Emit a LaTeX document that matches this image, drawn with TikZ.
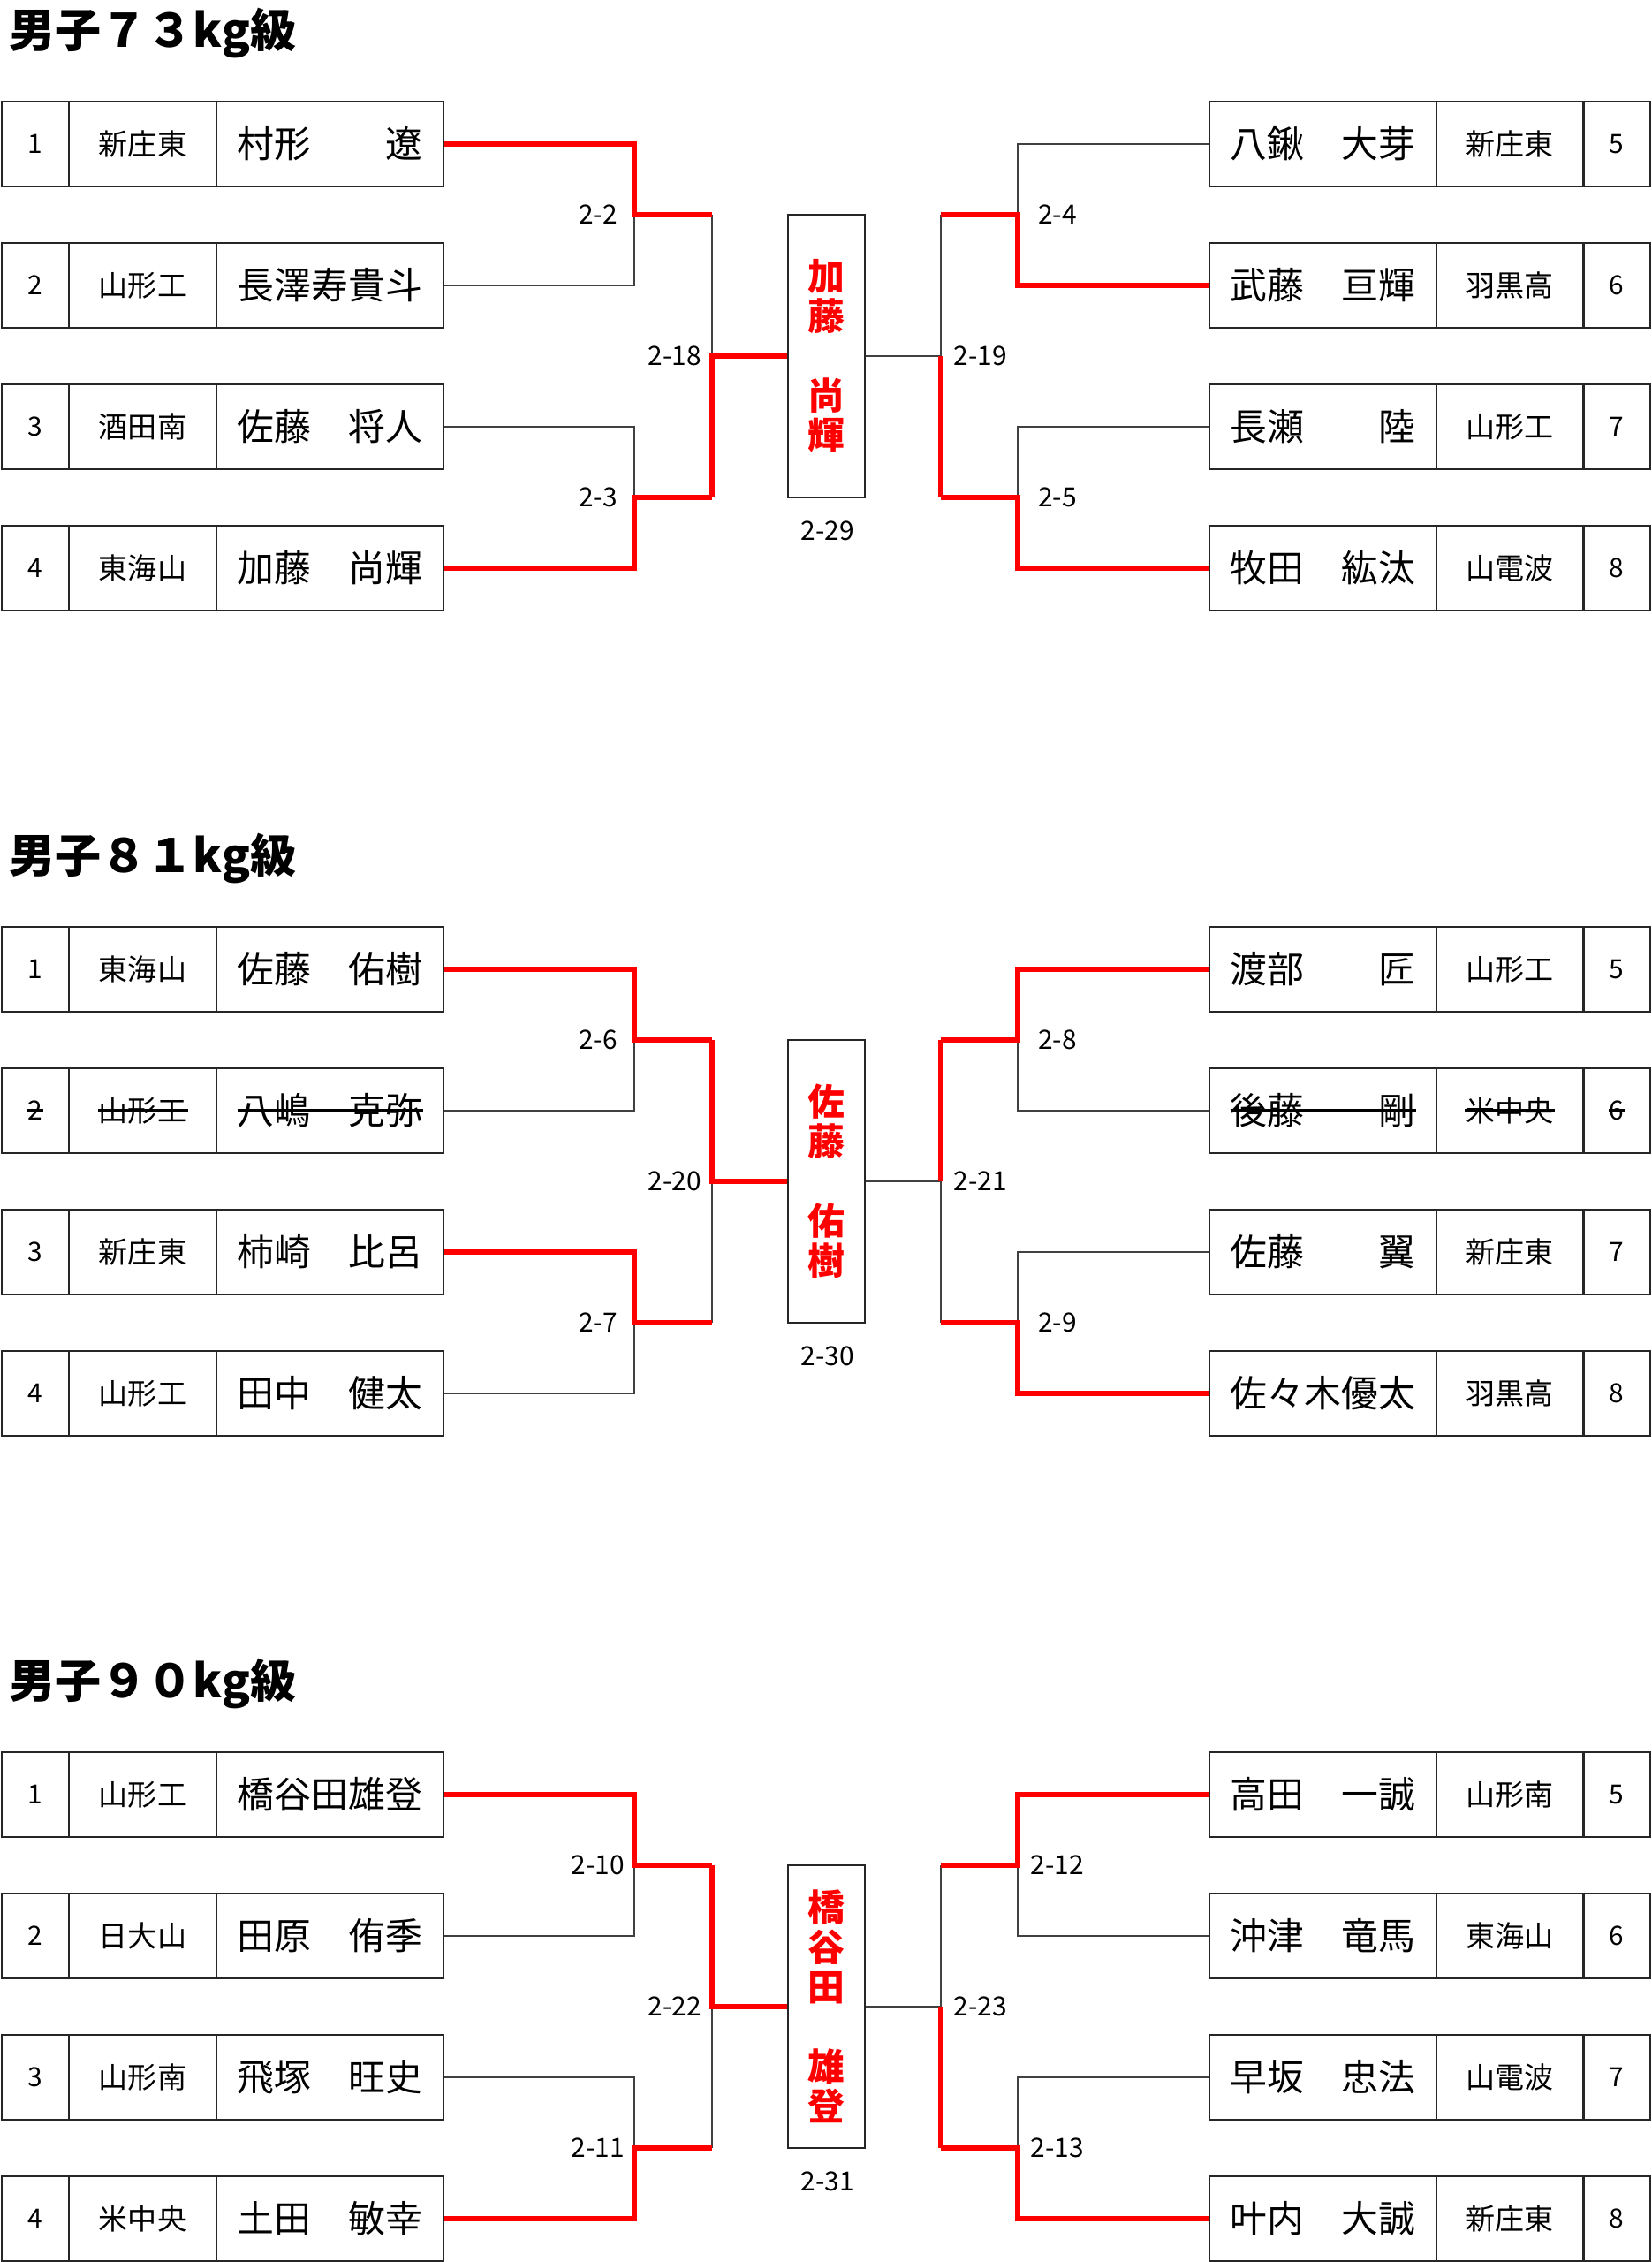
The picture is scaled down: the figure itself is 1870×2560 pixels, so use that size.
\documentclass[tikz,border=0pt]{standalone}
\usepackage{fontspec}
\setmainfont{Noto Sans CJK JP}
\usetikzlibrary{positioning}
\tikzset{
  cell/.style={draw=black!85, line width=0.6pt, minimum height=9.6mm, inner sep=0pt},
  numcell/.style={cell, minimum width=7.6mm, font=\fontsize{8.5pt}{10pt}\selectfont},
  schcell/.style={cell, minimum width=16.7mm, font=\fontsize{9.4pt}{11pt}\selectfont},
  namecell/.style={cell, minimum width=25.7mm, font=\fontsize{11.9pt}{14pt}\selectfont},
  champ/.style={cell, minimum width=8.7mm, minimum height=32mm, align=center, text=red,
    font=\bfseries\fontsize{11.9pt}{12.8pt}\selectfont},
  lbl/.style={inner sep=0pt, font=\fontsize{8.5pt}{10pt}\selectfont},
  ttl/.style={anchor=west, inner sep=0pt, font=\bfseries\fontsize{14.8pt}{16pt}\selectfont},
  lose/.style={draw=black!75, line width=0.55pt},
  win/.style={draw=red, line width=1.85pt},
  strike/.style={draw=black, line width=0.9pt},
}
\begin{document}
\begin{tikzpicture}[x=0.1mm, y=-0.1mm]
	\useasboundingbox (0,0) rectangle (1870,2560);
	% junctions of one bracket
	\def\jl{718} \def\kl{806} \def\jr{1152} \def\kr{1065}
	%%% 73kg
	\begin{scope}
	\node[ttl] (t73) at (10,37) {男子７３kg級};
	\foreach \i/\no/\sch/\nm in {1/1/新庄東/村形　　遼, 2/2/山形工/長澤寿貴斗, 3/3/酒田南/佐藤　将人, 4/4/東海山/加藤　尚輝}{
		\node[numcell] (L\i n) at (40,{3+160*\i}) {\no};
		\node[schcell] (L\i s) at (161.5,{3+160*\i}) {\sch};
		\node[namecell] (L\i) at (373.5,{3+160*\i}) {\nm};
	}
	\foreach \i/\nm/\sch in {5/八鍬　大芽/新庄東, 6/武藤　亘輝/羽黒高, 7/長瀬　　陸/山形工, 8/牧田　紘汰/山電波}{
		\node[namecell] (R\i) at (1497.5,{3+160*(\i-4)}) {\nm};
		\node[schcell] (R\i s) at (1709.3,{3+160*(\i-4)}) {\sch};
		\node[numcell] (R\i n) at (1830,{3+160*(\i-4)}) {\i};
	}
	\node[champ] (C) at (935.5,403) {加\\藤\\　\\尚\\輝};
	\coordinate (j1) at (\jl,243); \coordinate (j2) at (\jl,563);
	\coordinate (k1) at (\kl,243); \coordinate (k2) at (\kl,563); \coordinate (q1) at (\kl,403);
	\coordinate (j3) at (\jr,243); \coordinate (j4) at (\jr,563);
	\coordinate (k3) at (\kr,243); \coordinate (k4) at (\kr,563); \coordinate (q2) at (\kr,403);
	\draw[lose] (L2.east) -| (j1);
	\draw[lose] (L3.east) -| (j2);
	\draw[lose] (k1) -- (q1);
	\draw[lose] (R5.west) -| (j3);
	\draw[lose] (R7.west) -| (j4);
	\draw[lose] (k3) -- (q2) -- (C.east);
	\draw[win] (L1.east) -| (j1) -- (k1);
	\draw[win] (L4.east) -| (j2) -- (k2);
	\draw[win] (k2) -- (q1) -- (C.west);
	\draw[win] (R6.west) -| (j3) -- (k3);
	\draw[win] (R8.west) -| (j4) -- (k4);
	\draw[win] (k4) -- (q2);
	\path
(677,243) node[lbl] (m2) {2-2}
(677,563) node[lbl] (m3) {2-3}
(764,403) node[lbl] (m18) {2-18}
(937,601) node[lbl] (m29) {2-29}
(1110,403) node[lbl] (m19) {2-19}
(1197,243) node[lbl] (m4) {2-4}
(1197,563) node[lbl] (m5) {2-5};
	\end{scope}
	%%% 81kg
	\begin{scope}[shift={(0,934)}]
	\node[ttl] (t81) at (10,37) {男子８１kg級};
	\foreach \i/\no/\sch/\nm in {1/1/東海山/佐藤　佑樹, 2/2/山形工/八嶋　克弥, 3/3/新庄東/柿崎　比呂, 4/4/山形工/田中　健太}{
		\node[numcell] (L\i n) at (40,{3+160*\i}) {\no};
		\node[schcell] (L\i s) at (161.5,{3+160*\i}) {\sch};
		\node[namecell] (L\i) at (373.5,{3+160*\i}) {\nm};
	}
	\foreach \i/\nm/\sch in {5/渡部　　匠/山形工, 6/後藤　　剛/米中央, 7/佐藤　　翼/新庄東, 8/佐々木優太/羽黒高}{
		\node[namecell] (R\i) at (1497.5,{3+160*(\i-4)}) {\nm};
		\node[schcell] (R\i s) at (1709.3,{3+160*(\i-4)}) {\sch};
		\node[numcell] (R\i n) at (1830,{3+160*(\i-4)}) {\i};
	}
	% withdrawn
	\draw[strike] ([xshift=-0.9mm]L2n.center) -- ([xshift=0.9mm]L2n.center);
	\draw[strike] ([xshift=-5.1mm]L2s.center) -- ([xshift=5.1mm]L2s.center);
	\draw[strike] ([xshift=-10.5mm]L2.center) -- ([xshift=10.5mm]L2.center);
	\draw[strike] ([xshift=-10.5mm]R6.center) -- ([xshift=10.5mm]R6.center);
	\draw[strike] ([xshift=-5.1mm]R6s.center) -- ([xshift=5.1mm]R6s.center);
	\draw[strike] ([xshift=-0.9mm]R6n.center) -- ([xshift=0.9mm]R6n.center);
	\node[champ] (C) at (935.5,403) {佐\\藤\\　\\佑\\樹};
	\coordinate (j1) at (\jl,243); \coordinate (j2) at (\jl,563);
	\coordinate (k1) at (\kl,243); \coordinate (k2) at (\kl,563); \coordinate (q1) at (\kl,403);
	\coordinate (j3) at (\jr,243); \coordinate (j4) at (\jr,563);
	\coordinate (k3) at (\kr,243); \coordinate (k4) at (\kr,563); \coordinate (q2) at (\kr,403);
	\draw[lose] (L2.east) -| (j1);
	\draw[lose] (L4.east) -| (j2);
	\draw[lose] (k2) -- (q1);
	\draw[lose] (R6.west) -| (j3);
	\draw[lose] (R7.west) -| (j4);
	\draw[lose] (k4) -- (q2) -- (C.east);
	\draw[win] (L1.east) -| (j1) -- (k1);
	\draw[win] (L3.east) -| (j2) -- (k2);
	\draw[win] (k1) -- (q1) -- (C.west);
	\draw[win] (R5.west) -| (j3) -- (k3);
	\draw[win] (R8.west) -| (j4) -- (k4);
	\draw[win] (k3) -- (q2);
	\path
(677,243) node[lbl] (m6) {2-6}
(677,563) node[lbl] (m7) {2-7}
(764,403) node[lbl] (m20) {2-20}
(937,601) node[lbl] (m30) {2-30}
(1110,403) node[lbl] (m21) {2-21}
(1197,243) node[lbl] (m8) {2-8}
(1197,563) node[lbl] (m9) {2-9};
	\end{scope}
	%%% 90kg
	\begin{scope}[shift={(0,1868)}]
	\node[ttl] (t90) at (10,37) {男子９０kg級};
	\foreach \i/\no/\sch/\nm in {1/1/山形工/橋谷田雄登, 2/2/日大山/田原　侑季, 3/3/山形南/飛塚　旺史, 4/4/米中央/土田　敏幸}{
		\node[numcell] (L\i n) at (40,{3+160*\i}) {\no};
		\node[schcell] (L\i s) at (161.5,{3+160*\i}) {\sch};
		\node[namecell] (L\i) at (373.5,{3+160*\i}) {\nm};
	}
	\foreach \i/\nm/\sch in {5/高田　一誠/山形南, 6/沖津　竜馬/東海山, 7/早坂　忠法/山電波, 8/叶内　大誠/新庄東}{
		\node[namecell] (R\i) at (1497.5,{3+160*(\i-4)}) {\nm};
		\node[schcell] (R\i s) at (1709.3,{3+160*(\i-4)}) {\sch};
		\node[numcell] (R\i n) at (1830,{3+160*(\i-4)}) {\i};
	}
	\node[champ] (C) at (935.5,403) {橋\\谷\\田\\　\\雄\\登};
	\coordinate (j1) at (\jl,243); \coordinate (j2) at (\jl,563);
	\coordinate (k1) at (\kl,243); \coordinate (k2) at (\kl,563); \coordinate (q1) at (\kl,403);
	\coordinate (j3) at (\jr,243); \coordinate (j4) at (\jr,563);
	\coordinate (k3) at (\kr,243); \coordinate (k4) at (\kr,563); \coordinate (q2) at (\kr,403);
	\draw[lose] (L2.east) -| (j1);
	\draw[lose] (L3.east) -| (j2);
	\draw[lose] (k2) -- (q1);
	\draw[lose] (R6.west) -| (j3);
	\draw[lose] (R7.west) -| (j4);
	\draw[lose] (k3) -- (q2) -- (C.east);
	\draw[win] (L1.east) -| (j1) -- (k1);
	\draw[win] (L4.east) -| (j2) -- (k2);
	\draw[win] (k1) -- (q1) -- (C.west);
	\draw[win] (R5.west) -| (j3) -- (k3);
	\draw[win] (R8.west) -| (j4) -- (k4);
	\draw[win] (k4) -- (q2);
	\path
(677,243) node[lbl] (m10) {2-10}
(677,563) node[lbl] (m11) {2-11}
(764,403) node[lbl] (m22) {2-22}
(937,601) node[lbl] (m31) {2-31}
(1110,403) node[lbl] (m23) {2-23}
(1197,243) node[lbl] (m12) {2-12}
(1197,563) node[lbl] (m13) {2-13};
	\end{scope}
\end{tikzpicture}
\end{document}
